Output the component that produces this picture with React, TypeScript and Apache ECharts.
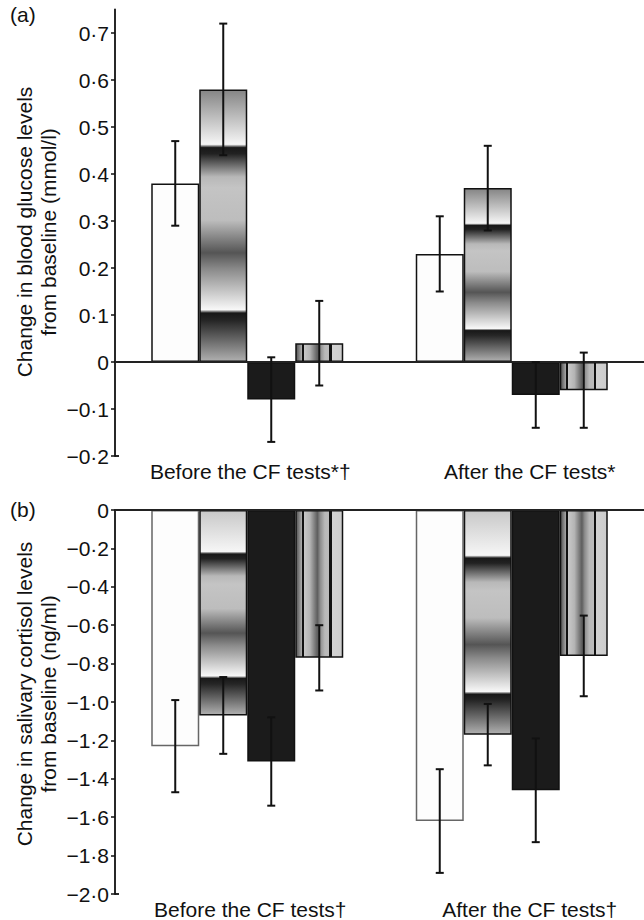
import React, { useEffect, useRef } from 'react';
import * as echarts from 'echarts';

// ---------- data ----------
const groupsA = ['Before the CF tests*†', 'After the CF tests*'];
const groupsB = ['Before the CF tests†', 'After the CF tests†'];
const seriesNames = ['Group 1', 'Group 2', 'Group 3', 'Group 4'];

// (a) change in blood glucose (mmol/l): mean and error, per group [before, after]
const glucoseWhite = [0.38, 0.23];
const glucoseGrad = [0.58, 0.37];
const glucoseBlack = [-0.08, -0.07];
const glucoseStripe = [0.04, -0.06];
const glucoseWhiteErr = [0.09, 0.08];
const glucoseGradErr = [0.14, 0.09];
const glucoseBlackErr = [0.09, 0.07];
const glucoseStripeErr = [0.09, 0.08];

// (b) change in salivary cortisol (ng/ml)
const cortisolWhite = [-1.23, -1.62];
const cortisolGrad = [-1.07, -1.17];
const cortisolBlack = [-1.31, -1.46];
const cortisolStripe = [-0.77, -0.76];
const cortisolWhiteErr = [0.24, 0.27];
const cortisolGradErr = [0.2, 0.16];
const cortisolBlackErr = [0.23, 0.27];
const cortisolStripeErr = [0.17, 0.21];

const glucoseTicks = [-0.2, -0.1, 0, 0.1, 0.2, 0.3, 0.4, 0.5, 0.6, 0.7];
const cortisolTicks = [-2.0, -1.8, -1.6, -1.4, -1.2, -1.0, -0.8, -0.6, -0.4, -0.2, 0];

const titleA = ['Change in blood glucose levels', 'from baseline (mmol/l)'];
const titleB = ['Change in salivary cortisol levels', 'from baseline (ng/ml)'];

// ---------- styling ----------
const FONT = "'Liberation Sans', Arial, Helvetica, sans-serif";
const FS = 21;
const BAR_W = 48;
const INK = '#111';

const fmt = (v: number) => {
  if (Math.abs(v) < 1e-9) return '0';
  const s = Math.abs(v).toFixed(1).replace('.', '·');
  return v < 0 ? '−' + s : s;
};

const vGrad = (top: string) =>
  new echarts.graphic.LinearGradient(0, 0, 0, 1, [
    { offset: 0, color: top },
    { offset: 0.2, color: '#f6f6f6' },
    { offset: 0.212, color: '#181818' },
    { offset: 0.235, color: '#222' },
    { offset: 0.32, color: '#b8b8b8' },
    { offset: 0.36, color: '#c4c4c4' },
    { offset: 0.48, color: '#bdbdbd' },
    { offset: 0.6, color: '#555' },
    { offset: 0.66, color: '#8a8a8a' },
    { offset: 0.81, color: '#f8f8f8' },
    { offset: 0.822, color: '#181818' },
    { offset: 0.85, color: '#262626' },
    { offset: 1, color: '#b0b0b0' },
  ]);

const hGrad = () =>
  new echarts.graphic.LinearGradient(0, 0, 1, 0, [
    { offset: 0, color: '#505050' },
    { offset: 0.12, color: '#a8a8a8' },
    { offset: 0.125, color: '#111' },
    { offset: 0.165, color: '#111' },
    { offset: 0.17, color: '#c8c8c8' },
    { offset: 0.3, color: '#b4b4b4' },
    { offset: 0.46, color: '#5e5e5e' },
    { offset: 0.52, color: '#8c8c8c' },
    { offset: 0.62, color: '#b8b8b8' },
    { offset: 0.715, color: '#bcbcbc' },
    { offset: 0.72, color: '#111' },
    { offset: 0.765, color: '#111' },
    { offset: 0.77, color: '#d2d2d2' },
    { offset: 1, color: '#cccccc' },
  ]);

function errorRows(means: number[][], errs: number[][]) {
  const rows: number[][] = [];
  means.forEach((m, k) => {
    m.forEach((v, c) => {
      rows.push([c, v - errs[k][c], v + errs[k][c], k]);
    });
  });
  return rows;
}

function panelSeries(
  gi: number,
  means: number[][],
  errs: number[][],
  gradTop: string,
  whiteBorder: string
) {
  const styles = [
    { color: '#fdfdfd', borderColor: whiteBorder, borderWidth: 1.5 },
    { color: vGrad(gradTop), borderColor: INK, borderWidth: 1.5 },
    { color: '#1b1b1b', borderColor: INK, borderWidth: 1.5 },
    { color: hGrad(), borderColor: INK, borderWidth: 1.5 },
  ];
  const bars: any[] = means.map((m, k) => ({
    type: 'bar',
    name: seriesNames[k],
    xAxisIndex: gi,
    yAxisIndex: gi,
    data: m,
    barWidth: BAR_W,
    barGap: '0%',
    itemStyle: styles[k],
    z: 2,
  }));
  bars[0].markLine = {
    silent: true,
    symbol: ['none', 'none'],
    label: { show: false },
    lineStyle: { color: '#222', width: 1.8, type: 'solid' },
    data: [{ yAxis: 0 }],
    z: 3,
  };
  bars.push({
    type: 'custom',
    xAxisIndex: gi,
    yAxisIndex: gi,
    z: 6,
    clip: false,
    encode: { x: 0, y: [1, 2] },
    data: errorRows(means, errs),
    renderItem: (_p: any, api: any) => {
      const c = api.value(0);
      const lo = api.value(1);
      const hi = api.value(2);
      const k = api.value(3);
      const pHi = api.coord([c, hi]);
      const pLo = api.coord([c, lo]);
      const x = pHi[0] + (k - 1.5) * BAR_W;
      const st = { stroke: INK, lineWidth: 2 };
      return {
        type: 'group',
        children: [
          { type: 'line', shape: { x1: x, y1: pHi[1], x2: x, y2: pLo[1] }, style: st },
          { type: 'line', shape: { x1: x - 4, y1: pHi[1], x2: x + 4, y2: pHi[1] }, style: st },
          { type: 'line', shape: { x1: x - 4, y1: pLo[1], x2: x + 4, y2: pLo[1] }, style: st },
        ],
      };
    },
  });
  return bars;
}

function yAxis(gi: number, min: number, max: number, interval: number, ticks: number[]) {
  return {
    type: 'value',
    gridIndex: gi,
    position: 'left',
    min,
    max,
    interval,
    axisLine: { show: true, onZero: false, lineStyle: { color: INK, width: 1.8 } },
    axisTick: {
      show: true,
      length: 4,
      customValues: ticks,
      lineStyle: { color: INK, width: 1.5 },
    },
    axisLabel: {
      customValues: ticks,
      formatter: fmt,
      fontSize: FS,
      fontFamily: FONT,
      color: INK,
      margin: 6,
    },
    splitLine: { show: false },
  };
}

// hidden companion axis that only draws the small inward foot at the axis bottom
function footAxis(gi: number, min: number, max: number) {
  return {
    type: 'value',
    gridIndex: gi,
    position: 'left',
    offset: 0,
    min,
    max,
    axisLine: { show: false, onZero: false },
    axisTick: {
      show: true,
      inside: true,
      length: 4,
      customValues: [min],
      lineStyle: { color: INK, width: 1.8 },
    },
    axisLabel: { show: false },
    splitLine: { show: false },
  };
}

function xAxis(gi: number, cats: string[], pads: number[]) {
  return {
    type: 'category',
    gridIndex: gi,
    data: cats,
    axisLine: { show: false, onZero: false },
    axisTick: { show: false },
    position: 'bottom',
    axisLabel: {
      interval: 0,
      margin: 5,
      color: INK,
      fontSize: FS,
      fontFamily: FONT,
      formatter: (v: string, i: number) => `{p${i}|${v}}`,
      rich: {
        p0: { padding: [0, 0, 0, pads[0]], fontSize: FS, fontFamily: FONT, color: INK },
        p1: { padding: [0, 0, 0, pads[1]], fontSize: FS, fontFamily: FONT, color: INK },
      },
    },
  };
}

const rotText = (text: string, x: number, y: number) => ({
  type: 'text',
  x,
  y,
  rotation: Math.PI / 2,
  style: {
    text,
    font: `${FS}px ${FONT}`,
    fill: INK,
    textAlign: 'center',
    textVerticalAlign: 'middle',
  },
});

export default function App() {
  const ref = useRef<HTMLDivElement>(null);
  useEffect(() => {
    if (!ref.current) return;
    const chart = echarts.init(ref.current, undefined, { renderer: 'svg' });
    const option: any = {
      animation: false,
      backgroundColor: '#ffffff',
      grid: [
        { left: 115, top: 9.5, width: 529, height: 446.5 },
        { left: 115, top: 510, width: 529, height: 385 },
      ],
      xAxis: [xAxis(0, groupsA, [6, 36]), xAxis(1, groupsB, [6, 36])],
      yAxis: [
        yAxis(0, -0.2, 0.75, 0.1, glucoseTicks),
        yAxis(1, -2, 0, 0.2, cortisolTicks),
        footAxis(0, -0.2, 0.75),
        footAxis(1, -2, 0),
      ],
      series: [
        ...panelSeries(
          0,
          [glucoseWhite, glucoseGrad, glucoseBlack, glucoseStripe],
          [glucoseWhiteErr, glucoseGradErr, glucoseBlackErr, glucoseStripeErr],
          '#858585',
          INK
        ),
        ...panelSeries(
          1,
          [cortisolWhite, cortisolGrad, cortisolBlack, cortisolStripe],
          [cortisolWhiteErr, cortisolGradErr, cortisolBlackErr, cortisolStripeErr],
          '#c8c8c8',
          '#666'
        ),
      ],
      graphic: [
        { type: 'text', left: 10, top: 4, style: { text: '(a)', font: `${FS}px ${FONT}`, fill: INK } },
        { type: 'text', left: 10, top: 499, style: { text: '(b)', font: `${FS}px ${FONT}`, fill: INK } },
        rotText(titleA[0], 24, 232),
        rotText(titleA[1], 48, 232),
        rotText(titleB[0], 24, 694),
        rotText(titleB[1], 48, 694),
      ],
    };
    chart.setOption(option);
    return () => chart.dispose();
  }, []);
  return (
    <div
      ref={ref}
      style={{ position: 'absolute', left: 0, top: 0, width: 644, height: 920, background: '#fff' }}
    />
  );
}
